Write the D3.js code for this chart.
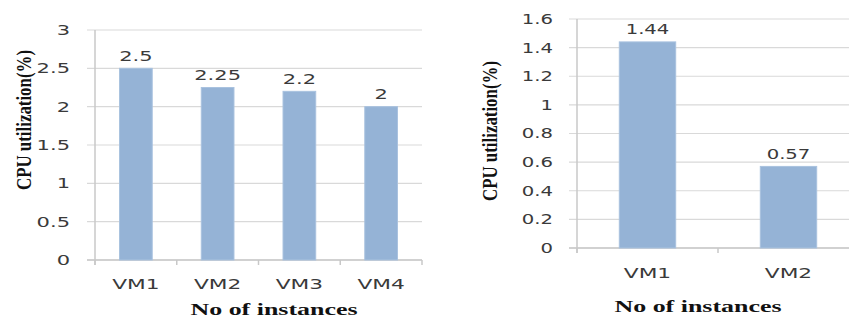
<!DOCTYPE html>
<html>
<head>
<meta charset="utf-8">
<script src="https://cdn.jsdelivr.net/npm/d3@7"></script>
<style>
  html, body { margin: 0; padding: 0; background: #fff; }
  svg { display: block; }
</style>
</head>
<body>
<svg id="chart" width="849" height="319"></svg>
<script>
// ---- Data ----
const leftCategories = ["VM1", "VM2", "VM3", "VM4"];
const leftValues = [2.5, 2.25, 2.2, 2];
const leftTicks = [0, 0.5, 1, 1.5, 2, 2.5, 3];

const rightCategories = ["VM1", "VM2"];
const rightValues = [1.44, 0.57];
const rightTicks = [0, 0.2, 0.4, 0.6, 0.8, 1, 1.2, 1.4, 1.6];

const yTitle = "CPU utilization(%)";
const xTitle = "No of instances";

// ---- Styling ----
const BAR = "#95b3d6";
const GRID = "#d9d9d9";
const AXIS = "#c8c8c8";
const TEXT = "#3a3a3a";
const TICKFONT = "'DejaVu Sans', sans-serif";
const TITLEFONT = "'Liberation Serif', 'Times New Roman', serif";

const svg = d3.select("#chart");

function stretch(sel, k) {
  sel.each(function () {
    const len = this.getComputedTextLength();
    d3.select(this).attr("textLength", len * k).attr("lengthAdjust", "spacingAndGlyphs");
  });
}

function drawPanel(cfg) {
  const g = svg.append("g");
  const x = d3.scaleBand().domain(cfg.cats).range([cfg.x0, cfg.x1]).paddingInner(0.6).paddingOuter(0.3);
  const y = d3.scaleLinear().domain([0, cfg.ymax]).range([cfg.y0, cfg.y1]);
  const step = x.step();

  // gridlines
  g.append("g").selectAll("line").data(cfg.ticks).join("line")
    .attr("x1", cfg.x0 - 8).attr("x2", cfg.x1)
    .attr("y1", d => y(d)).attr("y2", d => y(d))
    .attr("stroke", GRID).attr("stroke-width", 1.2);

  // y axis (labels)
  const ya = g.append("g").attr("transform", `translate(${cfg.x0},0)`)
    .call(d3.axisLeft(y).tickValues(cfg.ticks).tickSize(0).tickPadding(cfg.tickPad).tickFormat(d3.format("~g")));
  ya.select(".domain").remove();
  ya.selectAll("text").attr("font-family", TICKFONT).attr("font-size", 14).attr("fill", TEXT);
  stretch(ya.selectAll("text"), cfg.k);

  // vertical axis line
  g.append("line").attr("x1", cfg.x0).attr("x2", cfg.x0)
    .attr("y1", cfg.y1).attr("y2", cfg.y0 + 5).attr("stroke", AXIS).attr("stroke-width", 1.5);

  // baseline + category boundary ticks
  g.append("line").attr("x1", cfg.x0 - 8).attr("x2", cfg.x1)
    .attr("y1", cfg.y0).attr("y2", cfg.y0).attr("stroke", AXIS).attr("stroke-width", 1.5);
  const bounds = cfg.cats.map(c => x(c) - step * 0.3).concat([cfg.x1]);
  g.append("g").selectAll("line").data(bounds).join("line")
    .attr("x1", d => d).attr("x2", d => d)
    .attr("y1", cfg.y0).attr("y2", cfg.y0 + 5)
    .attr("stroke", AXIS).attr("stroke-width", 1.5);

  // bars
  g.append("g").selectAll("rect").data(cfg.vals).join("rect")
    .attr("x", (d, i) => x(cfg.cats[i]))
    .attr("width", x.bandwidth())
    .attr("y", d => y(d))
    .attr("height", d => cfg.y0 - y(d))
    .attr("fill", BAR)
    .attr("stroke", "#a9c2df").attr("stroke-width", 1);

  // value labels
  const vl = g.append("g").selectAll("text").data(cfg.vals).join("text")
    .attr("x", (d, i) => x(cfg.cats[i]) + x.bandwidth() / 2)
    .attr("y", d => y(d) - 7.5)
    .attr("text-anchor", "middle")
    .attr("font-family", TICKFONT).attr("font-size", 14).attr("fill", TEXT)
    .text(d => d3.format("~g")(d));
  stretch(vl, cfg.k);

  // category labels
  const cl = g.append("g").selectAll("text").data(cfg.cats).join("text")
    .attr("x", d => x(d) + x.bandwidth() / 2)
    .attr("y", cfg.y0 + cfg.catDy)
    .attr("text-anchor", "middle")
    .attr("font-family", TICKFONT).attr("font-size", 14).attr("fill", TEXT)
    .text(d => d);
  stretch(cl, 1.55);

  // x title
  g.append("text")
    .attr("x", cfg.xtX).attr("y", cfg.xtY)
    .attr("text-anchor", "middle")
    .attr("font-family", TITLEFONT).attr("font-weight", "bold").attr("font-size", 17)
    .attr("fill", "#111")
    .attr("textLength", 167).attr("lengthAdjust", "spacingAndGlyphs")
    .text(xTitle);

  // y title
  g.append("text")
    .attr("transform", `translate(${cfg.ytX},${cfg.ytY}) scale(1.2,1) rotate(-90)`)
    .attr("text-anchor", "middle")
    .attr("dy", "0.35em")
    .attr("font-family", TITLEFONT).attr("font-weight", "bold").attr("font-size", 17)
    .attr("fill", "#111")
    .attr("textLength", 140).attr("lengthAdjust", "spacingAndGlyphs")
    .text(yTitle);
}

drawPanel({
  cats: leftCategories, vals: leftValues, ticks: leftTicks, ymax: 3,
  x0: 95, x1: 422, y0: 260, y1: 30, tickPad: 25, k: 1.5, catDy: 29,
  xtX: 274, xtY: 315, ytX: 24, ytY: 120
});

drawPanel({
  cats: rightCategories, vals: rightValues, ticks: rightTicks, ymax: 1.6,
  x0: 577, x1: 859, y0: 248, y1: 19, tickPad: 24, k: 1.4, catDy: 30,
  xtX: 698, xtY: 312, ytX: 490, ytY: 131
});
</script>
</body>
</html>
